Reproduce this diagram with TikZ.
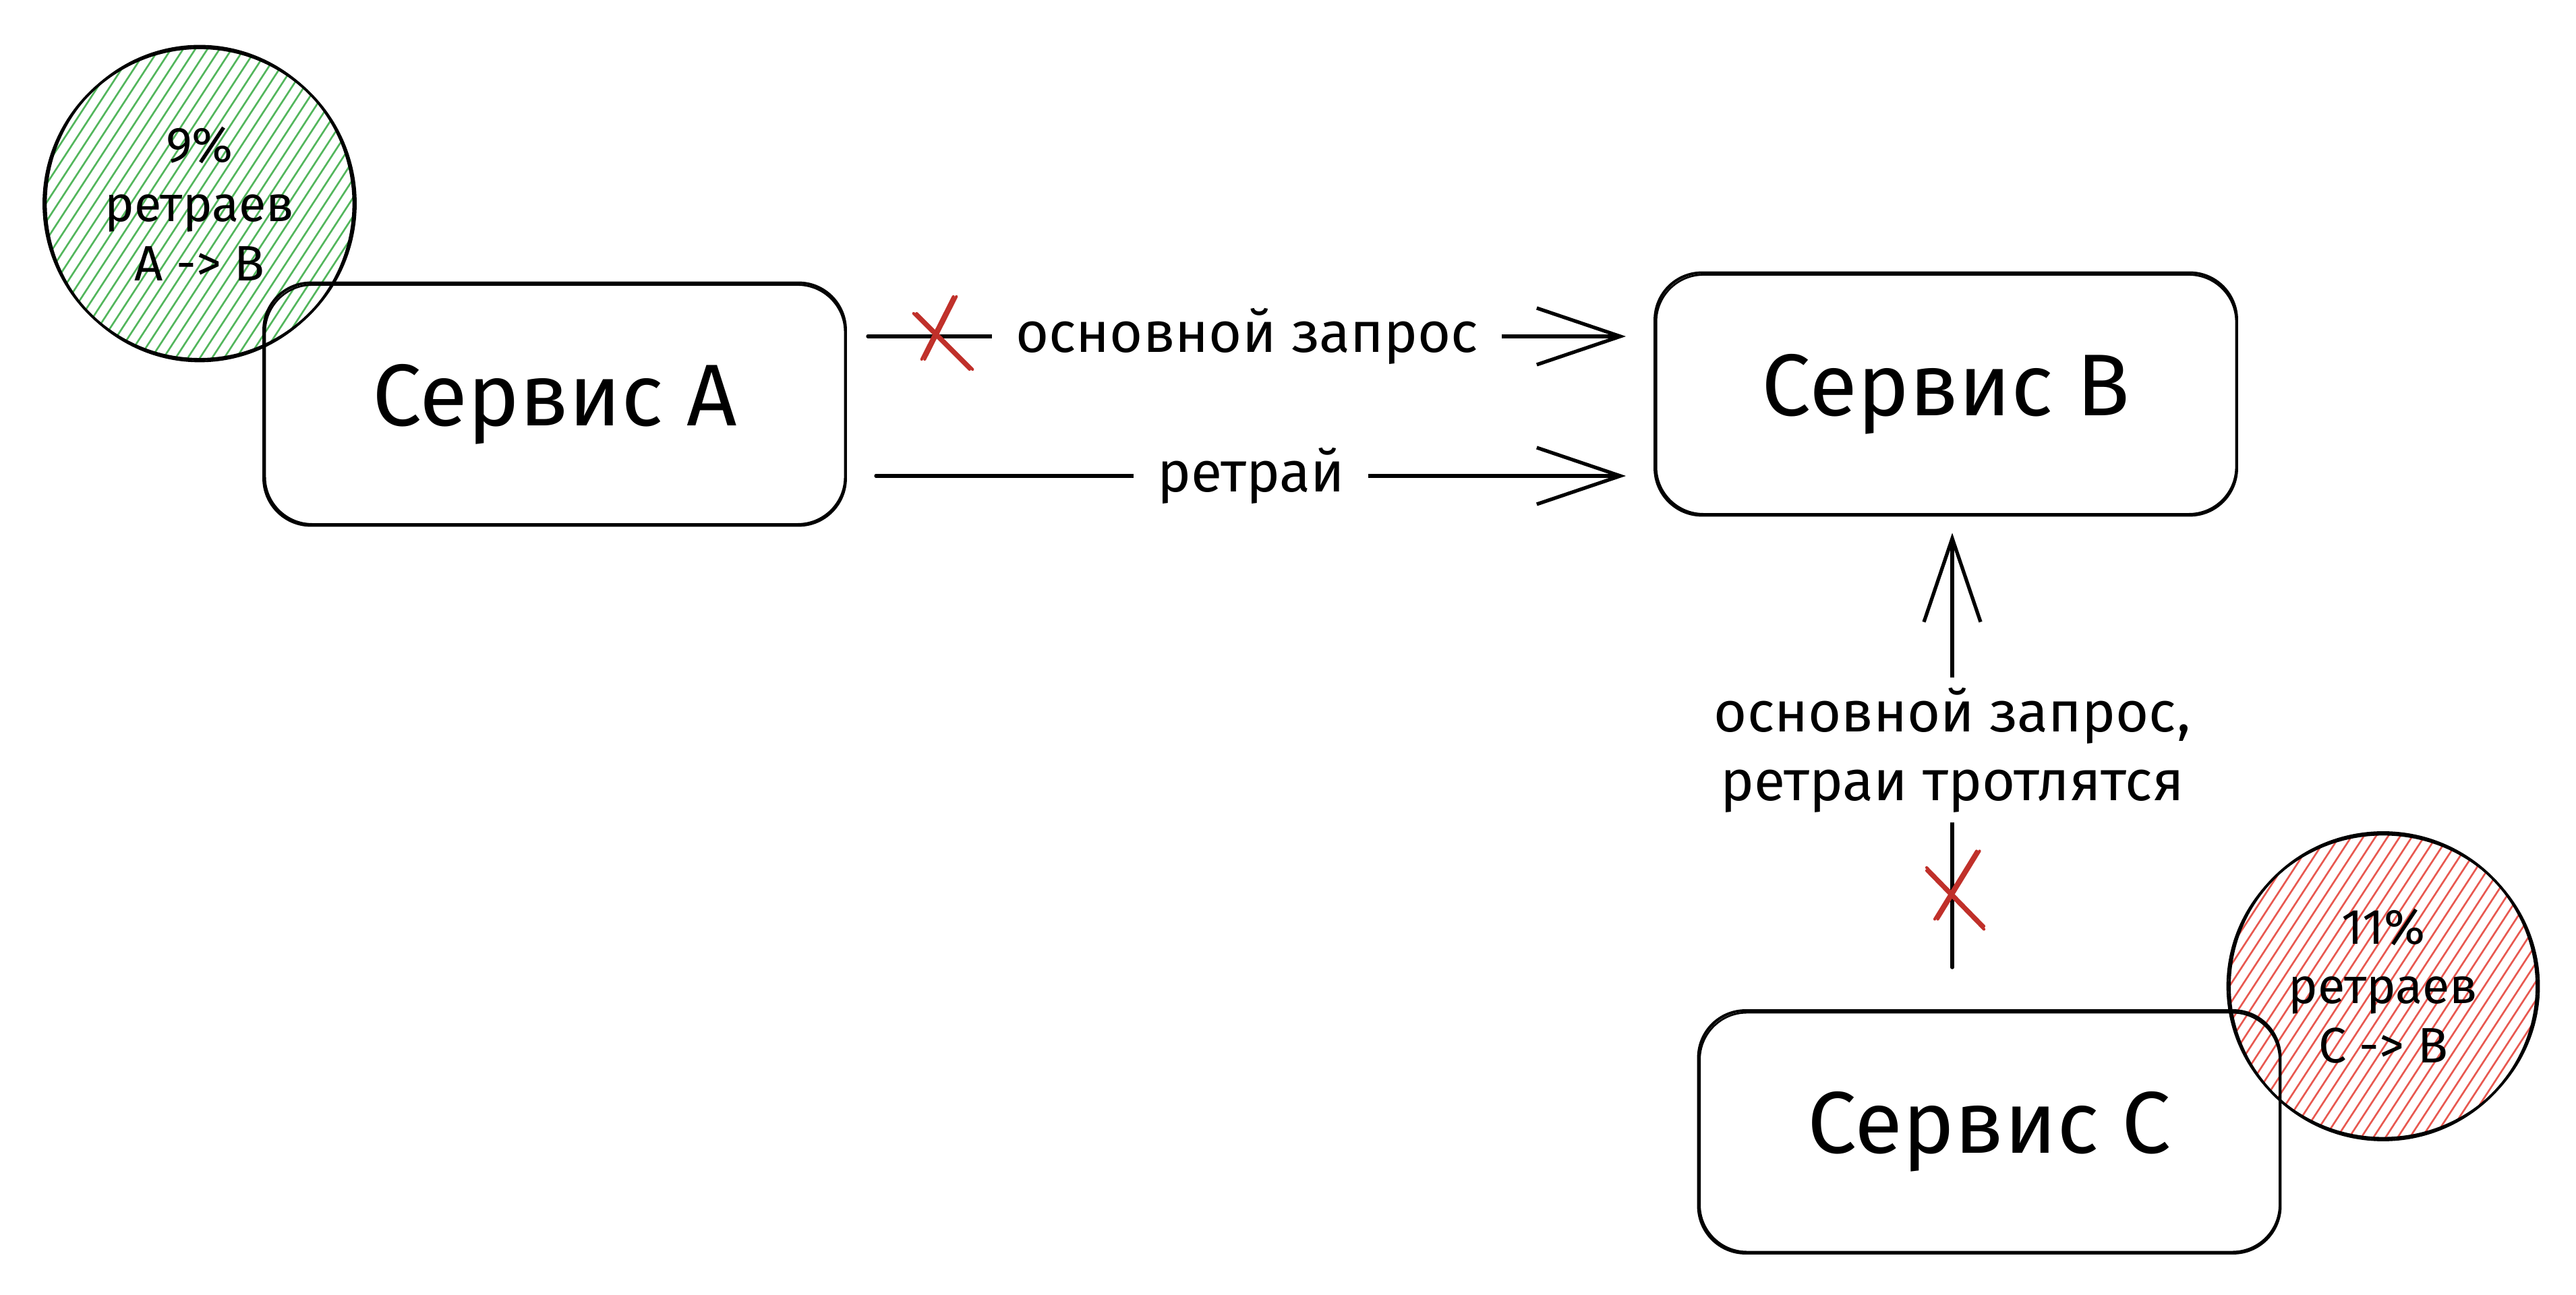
\documentclass[tikz,border=0pt]{standalone}
\usepackage{fontspec}
\setmainfont{Fira Sans}
\usetikzlibrary{arrows.meta, calc, positioning}

\definecolor{hatchgreen}{RGB}{82,182,92}
\definecolor{hatchred}{RGB}{232,88,80}
\definecolor{crossred}{RGB}{192,48,42}

\begin{document}
\begin{tikzpicture}[
    svcbox/.style={draw, line width=1.1pt, rounded corners=0.7cm,
      minimum width=8.63cm, minimum height=3.6cm, font=\fontsize{37}{44}\selectfont},
    sketchline/.style={line width=0.8pt, rounded corners=0.7cm},
    ratecircle/.style={circle, draw, line width=1.1pt, inner sep=0pt, align=center,
      font=\fontsize{21}{25}\selectfont},
    hatch/.style={path picture={
      \foreach \k in {-3.0,-2.82,...,3.0}
        \draw[#1, line width=0.75pt] ([shift={(\k-1.6,-2.45)}]path picture bounding box.center) -- ++(3.2,4.9);
    }},
    flow/.style={line width=1.5pt, line cap=round, -{Straight Barb[length=12.4mm, width=8.4mm]}},
    edgelabel/.style={fill=white, inner xsep=3.5mm, inner ysep=1.5mm, font=\fontsize{24}{29}\selectfont},
    redcross/.style={crossred, line width=1.2pt, line cap=round}
  ]
  % Canvas
  \fill[white] (0,0) rectangle (38.2,19.2);
  \useasboundingbox (0,0) rectangle (38.2,19.2);

  % Retry rate circles (hatched)
  \node[ratecircle, hatch=hatchgreen, minimum size=4.62cm] (rateA) at (2.96,16.18) {9\%\\ретраев\\A -> B};
  \node[ratecircle, hatch=hatchred, minimum size=4.56cm] (rateC) at (35.34,4.57) {11\%\\ретраев\\C -> B};
  \draw[line width=0.8pt] (rateA.center) ellipse (2.28cm and 2.34cm);
  \draw[line width=0.8pt] (rateC.center) ellipse (2.31cm and 2.25cm);

  % Services
  \node[svcbox] (svcA) at (8.225,13.205) {Сервис A};
  \node[svcbox] (svcB) at (28.855,13.355) {Сервис B};
  \node[svcbox] (svcC) at (29.5,2.41) {Сервис C};
  \foreach \b in {svcA,svcB,svcC}
    \draw[sketchline] ([shift={(0.04,-0.05)}]\b.north west) rectangle ([shift={(-0.03,0.04)}]\b.south east);

  % A -> B: main request and retry
  \coordinate (reqA) at ([shift={(0.31,1.005)}]svcA.east);
  \draw[flow] (reqA) -- node[edgelabel] {основной запрос} coordinate[pos=0.095] (cutReq)
    ($(svcB.west |- reqA)+(-0.41,0)$);
  \coordinate (retA) at ([shift={(0.43,-1.065)}]svcA.east);
  \draw[flow] (retA) -- node[edgelabel] {ретрай} ($(svcB.west |- retA)+(-0.41,0)$);

  % C -> B: throttled
  \coordinate (thrC) at ([shift={(-0.55,0.62)}]svcC.north);
  \draw[flow] (thrC) -- node[edgelabel, align=center] {основной запрос,\\ретраи тротлятся}
    coordinate[pos=0.17] (cutThr) ($(svcB.south -| thrC)+(0,-0.24)$);

  % Failed requests
  \foreach \s in {0,0.045} {
    \draw[redcross] ([shift={(-0.39+\s,0.34)}]cutReq) -- ([shift={(0.44+\s,-0.49)}]cutReq);
    \draw[redcross] ([shift={(0.20+\s,0.59)}]cutReq) -- ([shift={(-0.27+\s,-0.34)}]cutReq);
    \draw[redcross] ([shift={(-0.38,0.34+\s)}]cutThr) -- ([shift={(0.47,-0.53+\s)}]cutThr);
    \draw[redcross] ([shift={(0.36+\s,0.63)}]cutThr) -- ([shift={(-0.26+\s,-0.38)}]cutThr);
  }
\end{tikzpicture}
\end{document}
